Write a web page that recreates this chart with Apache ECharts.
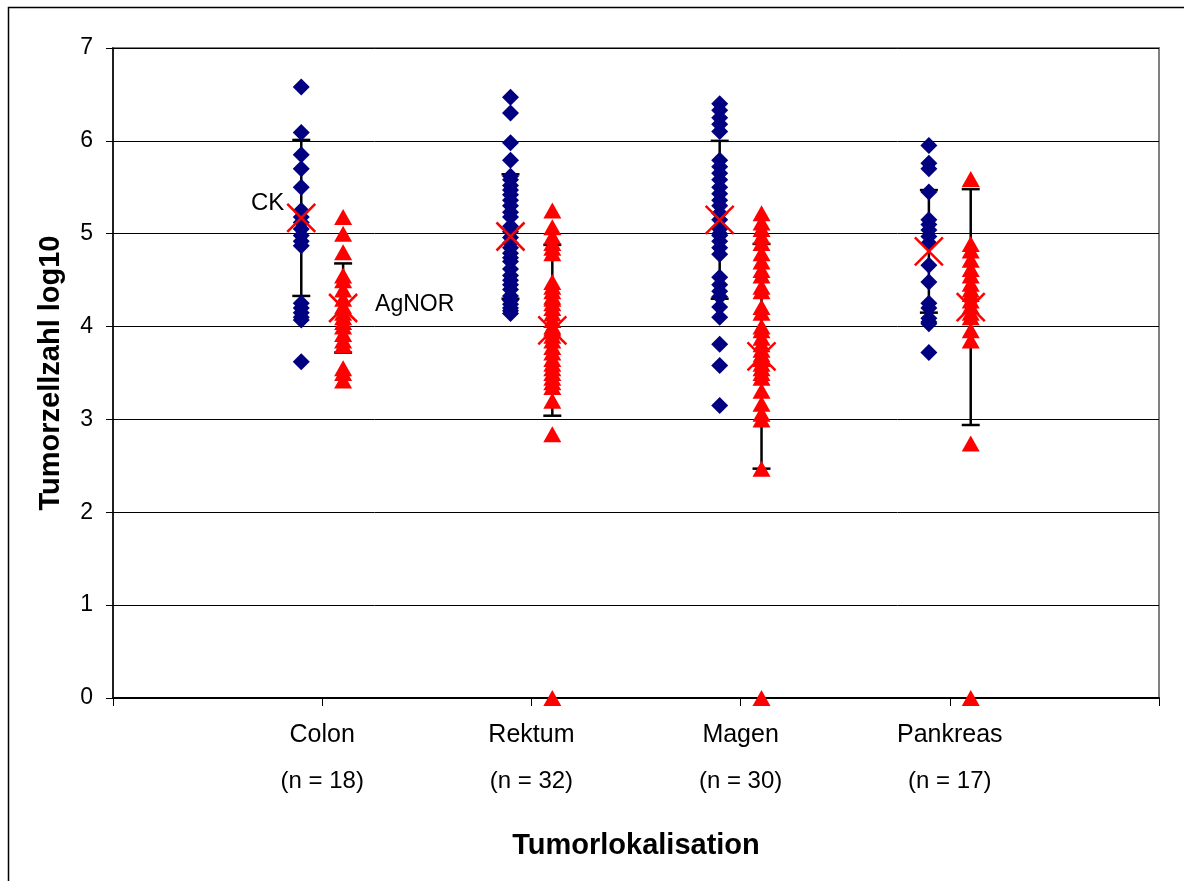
<!DOCTYPE html>
<html>
<head>
<meta charset="utf-8">
<script src="https://cdn.jsdelivr.net/npm/echarts@6/dist/echarts.min.js"></script>
<style>html,body{margin:0;padding:0;background:#fff}#c{width:1184px;height:881px}</style>
</head>
<body>
<div id="c"></div>
<script>
const categories = ['Colon', 'Rektum', 'Magen', 'Pankreas'];
const nLabels = ['(n = 18)', '(n = 32)', '(n = 30)', '(n = 17)'];
const yTicks = [0, 1, 2, 3, 4, 5, 6, 7];

// CK (blue diamonds) values per location
const ckColon = [6.58, 6.09, 5.85, 5.70, 5.50, 5.25, 5.18, 5.12, 5.05, 4.98, 4.92, 4.87, 4.25, 4.20, 4.15, 4.10, 4.07, 3.62];
const ckRektum = [6.47, 6.30, 5.98, 5.79, 5.62, 5.58, 5.52, 5.47, 5.42, 5.36, 5.30, 5.23, 5.18, 5.08, 5.02, 4.96, 4.90, 4.85, 4.79, 4.74, 4.70, 4.62, 4.55, 4.50, 4.45, 4.40, 4.33, 4.28, 4.24, 4.20, 4.17, 4.14];
const ckMagen = [6.40, 6.33, 6.25, 6.18, 6.10, 5.79, 5.72, 5.65, 5.58, 5.50, 5.43, 5.36, 5.30, 5.22, 5.15, 5.05, 4.98, 4.92, 4.85, 4.78, 4.53, 4.45, 4.38, 4.32, 4.21, 4.10, 3.81, 3.58, 3.15, 5.00];
const ckPankreas = [5.95, 5.76, 5.70, 5.45, 5.15, 5.10, 5.04, 4.97, 4.90, 4.66, 4.48, 4.25, 4.20, 4.09, 4.05, 4.03, 3.72];

// AgNOR (red triangles) values per location
const agColon = [5.18, 5.00, 4.80, 4.55, 4.50, 4.40, 4.30, 4.22, 4.15, 4.10, 4.05, 4.00, 3.92, 3.85, 3.80, 3.55, 3.50, 3.42];
const agRektum = [5.25, 5.07, 4.97, 4.90, 4.85, 4.79, 4.48, 4.43, 4.38, 4.32, 4.25, 4.20, 4.14, 4.07, 4.00, 3.95, 3.90, 3.85, 3.78, 3.72, 3.65, 3.60, 3.55, 3.50, 3.45, 3.40, 3.35, 3.20, 2.84, 0, 4.30, 3.98];
const agMagen = [5.22, 5.12, 5.05, 4.97, 4.90, 4.79, 4.70, 4.61, 4.55, 4.43, 4.38, 4.21, 4.15, 4.00, 3.96, 3.88, 3.81, 3.75, 3.70, 3.65, 3.60, 3.55, 3.50, 3.45, 3.31, 3.17, 3.06, 3.00, 2.47, 0];
const agPankreas = [5.59, 4.89, 4.82, 4.72, 4.62, 4.55, 4.46, 4.40, 4.35, 4.28, 4.22, 4.15, 4.10, 3.96, 3.85, 2.74, 0];

// Means and standard deviations
const ckMean = [5.17, 4.97, 5.15, 4.81];
const ckSD = [0.84, 0.67, 0.85, 0.66];
const agMean = [4.20, 3.96, 3.68, 4.21];
const agSD = [0.48, 0.92, 1.21, 1.27];
const meanLabels = ['CK', 'AgNOR'];

const ckGroups = [ckColon, ckRektum, ckMagen, ckPankreas];
const agGroups = [agColon, agRektum, agMagen, agPankreas];
const OFF = 0.1;

function points(groups, dx) {
  const out = [];
  groups.forEach((g, i) => g.forEach(v => out.push([i + 1 + dx, v])));
  return out;
}
function errData(mean, sd, dx) {
  return mean.map((m, i) => [i + 1 + dx, m - sd[i], m + sd[i]]);
}
function meanData(mean, dx, which) {
  return mean.map((m, i) => [i + 1 + dx, m, i === 0 ? which : -1]);
}

function renderErr(params, api) {
  const x = api.value(0);
  const pLo = api.coord([x, api.value(1)]);
  const pHi = api.coord([x, api.value(2)]);
  const w = 9;
  const st = { stroke: '#000', lineWidth: 2.5 };
  return {
    type: 'group',
    children: [
      { type: 'line', shape: { x1: pLo[0], y1: pLo[1], x2: pHi[0], y2: pHi[1] }, style: st },
      { type: 'line', shape: { x1: pLo[0] - w, y1: pLo[1], x2: pLo[0] + w, y2: pLo[1] }, style: st },
      { type: 'line', shape: { x1: pHi[0] - w, y1: pHi[1], x2: pHi[0] + w, y2: pHi[1] }, style: st }
    ]
  };
}
function renderMean(params, api) {
  const p = api.coord([api.value(0), api.value(1)]);
  const h = 14;
  const st = { stroke: '#ff0000', lineWidth: 2.5 };
  const children = [
    { type: 'line', shape: { x1: p[0] - h, y1: p[1] - h, x2: p[0] + h, y2: p[1] + h }, style: st },
    { type: 'line', shape: { x1: p[0] - h, y1: p[1] + h, x2: p[0] + h, y2: p[1] - h }, style: st }
  ];
  const lab = api.value(2);
  if (lab === 0) {
    children.push({ type: 'text', x: p[0] - 17, y: p[1] - 15, style: { text: meanLabels[0], fill: '#000', font: '24px "Liberation Sans", Arial, sans-serif', textAlign: 'right', textVerticalAlign: 'middle' } });
  } else if (lab === 1) {
    children.push({ type: 'text', x: p[0] + 32, y: p[1] - 3, style: { text: meanLabels[1], fill: '#000', font: '23px "Liberation Sans", Arial, sans-serif', textAlign: 'left', textVerticalAlign: 'middle' } });
  }
  return { type: 'group', children };
}

const FONT = '"Liberation Sans", Arial, sans-serif';
const chart = echarts.init(document.getElementById('c'));
chart.setOption({
  animation: false,
  backgroundColor: '#fff',
  textStyle: { fontFamily: FONT },
  graphic: [{
    type: 'rect', shape: { x: 8.5, y: 7.5, width: 1300, height: 1000 },
    style: { fill: 'none', stroke: '#000', lineWidth: 1.5 }, silent: true
  }],
  grid: { left: 113, top: 48, right: 25, bottom: 183, show: true, borderColor: '#808080', borderWidth: 2, backgroundColor: 'transparent' },
  xAxis: [{
    type: 'value', min: 0, max: 5, interval: 1,
    splitLine: { show: false },
    axisLine: { show: true, onZero: false, lineStyle: { color: '#000', width: 2 } },
    axisTick: { show: true, length: 8, lineStyle: { color: '#000', width: 1 } },
    axisLabel: { margin: 25, fontSize: 25, color: '#000', fontFamily: FONT, formatter: v => (v >= 1 && v <= 4 ? categories[v - 1] : '') },
    name: 'Tumorlokalisation', nameLocation: 'middle', nameGap: 133,
    nameTextStyle: { fontSize: 29, fontWeight: 'bold', color: '#000', fontFamily: FONT }
  }, {
    type: 'value', min: 0, max: 5, interval: 1, position: 'bottom',
    splitLine: { show: false }, axisLine: { show: false }, axisTick: { show: false },
    axisLabel: { margin: 71, fontSize: 24, color: '#000', fontFamily: FONT, formatter: v => (v >= 1 && v <= 4 ? nLabels[v - 1] : '') }
  }],
  yAxis: {
    type: 'value', min: yTicks[0], max: yTicks[yTicks.length - 1], interval: 1,
    splitLine: { show: true, lineStyle: { color: '#000', width: 1 } },
    axisLine: { show: true, lineStyle: { color: '#000', width: 1.5 } },
    axisTick: { show: true, length: 7, lineStyle: { color: '#000' } },
    axisLabel: { margin: 20, fontSize: 23, color: '#000', fontFamily: FONT },
    name: 'Tumorzellzahl log10', nameLocation: 'middle', nameGap: 48,
    nameTextStyle: { fontSize: 29, fontWeight: 'bold', color: '#000', fontFamily: FONT }
  },
  series: [
    { type: 'custom', renderItem: renderErr, data: errData(ckMean, ckSD, -OFF), z: 2 },
    { type: 'custom', renderItem: renderErr, data: errData(agMean, agSD, OFF), z: 2 },
    { type: 'scatter', symbol: 'diamond', symbolSize: [17, 17], itemStyle: { color: '#000080', opacity: 1 }, data: points(ckGroups, -OFF), z: 3 },
    { type: 'scatter', symbol: 'triangle', symbolSize: [18, 16], itemStyle: { color: '#ff0000', opacity: 1 }, data: points(agGroups, OFF), z: 3 },
    { type: 'custom', renderItem: renderMean, data: meanData(ckMean, -OFF, 0), z: 4 },
    { type: 'custom', renderItem: renderMean, data: meanData(agMean, OFF, 1), z: 4 }
  ]
});
</script>
</body>
</html>
